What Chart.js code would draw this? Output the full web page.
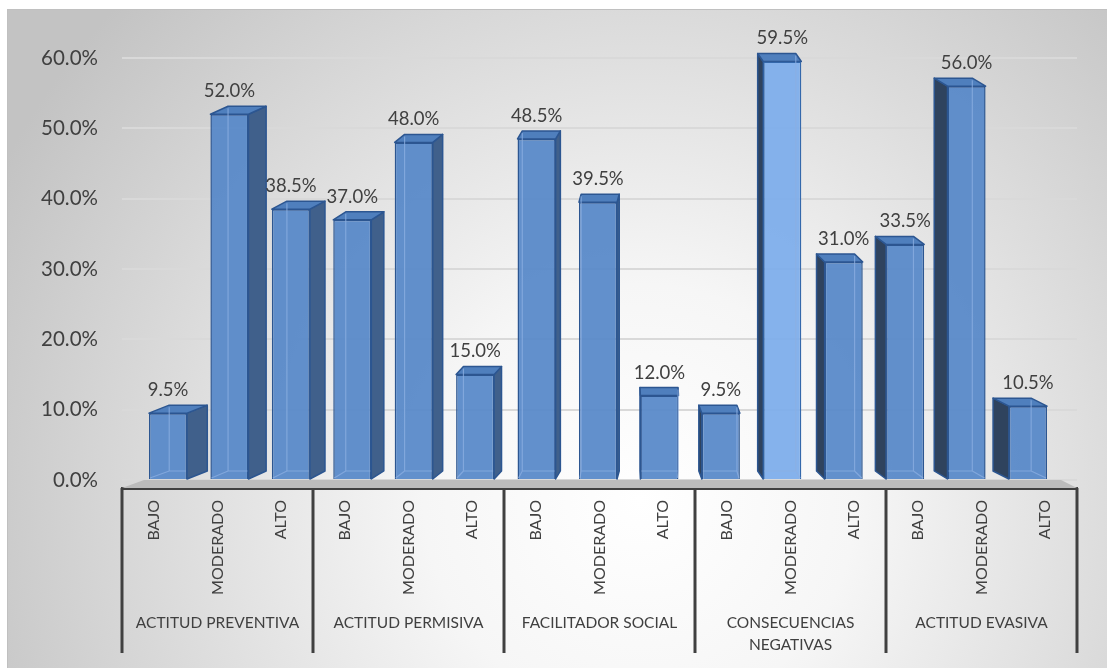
<!DOCTYPE html>
<html>
<head>
<meta charset="utf-8">
<script src="https://cdn.jsdelivr.net/npm/chart.js@4.4.1/dist/chart.umd.min.js"></script>
<style>
  html, body { margin: 0; padding: 0; background: #fff; }
  #wrap { width: 1107px; height: 668px; position: relative; }
</style>
</head>
<body>
<div id="wrap"><canvas id="myChart"></canvas></div>
<script>
const groups = ["ACTITUD PREVENTIVA", "ACTITUD PERMISIVA", "FACILITADOR SOCIAL", ["CONSECUENCIAS", "NEGATIVAS"], "ACTITUD EVASIVA"];
const levels = ["BAJO", "MODERADO", "ALTO", "BAJO", "MODERADO", "ALTO", "BAJO", "MODERADO", "ALTO",
                "BAJO", "MODERADO", "ALTO", "BAJO", "MODERADO", "ALTO"];
const values = [9.5, 52.0, 38.5, 37.0, 48.0, 15.0, 48.5, 39.5, 12.0, 9.5, 59.5, 31.0, 33.5, 56.0, 10.5];
const yTicks = [0, 10, 20, 30, 40, 50, 60];

// fake 3d: side/top faces go toward a vanishing point near the middle
const vanishX = 650;
const depthK = 0.042;
const depthY = -8;
const depthOf = (x) => (vanishX - x) * depthK;

const background = {
  id: "background",
  beforeDraw(chart) {
    const c = chart.ctx;
    c.save();
    c.fillStyle = "#fff";
    c.fillRect(0, 0, chart.width, chart.height);
    const g = c.createRadialGradient(640, 500, 0, 640, 500, 720);
    g.addColorStop(0, "#ffffff");
    g.addColorStop(0.3, "#f6f6f6");
    g.addColorStop(1, "#c3c3c3");
    c.fillStyle = g;
    c.fillRect(7, 9, chart.width - 7, chart.height - 9);
    c.strokeStyle = "#c0c0c0";
    c.lineWidth = 1;
    c.strokeRect(7.5, 9.5, chart.width - 7, chart.height - 9);
    c.restore();
  }
};

const bar3d = {
  id: "bar3d",
  beforeDatasetsDraw(chart) {
    const c = chart.ctx;
    const ca = chart.chartArea;
    const base0 = chart.scales.y.getPixelForValue(0);
    c.save();
    // floor
    c.fillStyle = "#bcbcbc";
    c.beginPath();
    c.moveTo(ca.left, ca.bottom);
    c.lineTo(ca.right, ca.bottom);
    c.lineTo(ca.right - 16, base0);
    c.lineTo(ca.left + 22, base0);
    c.closePath();
    c.fill();

    const meta = chart.getDatasetMeta(0);
    meta.data.forEach((el) => {
      const { x, y, base, width } = el.getProps(["x", "y", "base", "width"], true);
      const x1 = x - width / 2, x2 = x + width / 2;
      const d = depthOf(x);
      const ex = d > 0 ? x2 : x1;
      c.lineJoin = "round";
      c.lineWidth = 1.5;
      c.strokeStyle = "#2c5691";
      // side
      c.fillStyle = d > 0 ? "#40608b" : "#2f435e";
      c.beginPath();
      c.moveTo(ex, y);
      c.lineTo(ex + d, y + depthY);
      c.lineTo(ex + d, base + depthY);
      c.lineTo(ex, base);
      c.closePath();
      c.fill();
      c.stroke();
      // top
      c.fillStyle = "#4f7fbd";
      c.beginPath();
      c.moveTo(x1, y);
      c.lineTo(x2, y);
      c.lineTo(x2 + d, y + depthY);
      c.lineTo(x1 + d, y + depthY);
      c.closePath();
      c.fill();
      c.stroke();
    });
    c.restore();
  },
  afterDatasetsDraw(chart) {
    const c = chart.ctx;
    const meta = chart.getDatasetMeta(0);
    c.save();
    meta.data.forEach((el, i) => {
      const { x, y, base, width } = el.getProps(["x", "y", "base", "width"], true);
      const x1 = x - width / 2, x2 = x + width / 2;
      const d = depthOf(x);
      // back edges seen through the front face
      c.strokeStyle = "rgba(140,175,225,0.75)";
      c.lineWidth = 1.2;
      c.beginPath();
      if (d > 0) {
        c.moveTo(x1 + d, y + depthY + 2);
        c.lineTo(x1 + d, base + depthY);
        c.lineTo(x2 - 1, base + depthY);
        c.moveTo(x1 + 1, base - 1);
        c.lineTo(x1 + d, base + depthY);
      } else {
        c.moveTo(x2 + d, y + depthY + 2);
        c.lineTo(x2 + d, base + depthY);
        c.lineTo(x1 + 1, base + depthY);
        c.moveTo(x2 - 1, base - 1);
        c.lineTo(x2 + d, base + depthY);
      }
      c.stroke();
      // value label
      c.fillStyle = "#404040";
      c.font = "18.5px Lato";
      c.textAlign = "center";
      c.textBaseline = "middle";
      c.fillText(values[i].toFixed(1) + "%", x, y + depthY - 15);
    });
    c.restore();
  }
};

const separators = {
  id: "separators",
  afterDraw(chart) {
    const c = chart.ctx;
    const sx = chart.scales.x;
    const step = sx.width / groups.length;
    c.save();
    c.strokeStyle = "#404040";
    c.lineWidth = 3;
    for (let g = 0; g <= groups.length; g++) {
      const px = Math.round(sx.left + g * step);
      c.beginPath();
      c.moveTo(px, sx.top);
      c.lineTo(px, 653);
      c.stroke();
    }
    c.restore();
  }
};

const ctx = document.getElementById("myChart").getContext("2d");
const mychart = new Chart(ctx, {
  type: "bar",
  data: {
    datasets: [
      {
        data: values.map((v, i) => ({ x: i, y: v })),
        xAxisID: "xb",
        yAxisID: "y",
        backgroundColor: (c) => c.dataIndex === 10 ? "rgba(126,174,235,0.95)" : "rgba(86,136,200,0.93)",
        borderColor: (c) => c.dataIndex === 10 ? "#3468ab" : "#2c5691",
        borderWidth: 1.5,
        categoryPercentage: 1,
        barPercentage: 0.62,
      },
    ],
  },
  options: {
    responsive: true,
    maintainAspectRatio: false,
    animation: false,
    layout: { padding: { left: 0, right: 30, top: 58, bottom: 7 } },
    plugins: { legend: { display: false }, tooltip: { enabled: false } },
    scales: {
      xb: {
        type: "linear",
        display: false,
        offset: false,
        min: -0.749,
        max: 14.798,
        grid: { offset: false },
      },
      x: {
        type: "category",
        labels: levels,
        position: "bottom",
        weight: 0,
        offset: true,
        grid: { display: false, drawTicks: false },
        border: { display: true, color: "#404040", width: 3 },
        ticks: {
          autoSkip: false,
          minRotation: 90,
          maxRotation: 90,
          padding: 12,
          color: "#404040",
          font: { family: "Lato", size: 16 },
        },
        afterFit: (s) => { s.height = 118; },
      },
      x2: {
        type: "category",
        labels: groups,
        position: "bottom",
        weight: 1,
        offset: true,
        grid: { display: false, drawTicks: false },
        border: { display: false },
        ticks: {
          autoSkip: false,
          minRotation: 0,
          maxRotation: 0,
          padding: 6,
          color: "#404040",
          font: { family: "Lato", size: 15.5, lineHeight: 1.4 },
        },
        afterFit: (s) => { s.height = 55; },
      },
      y: {
        min: -1.14,
        max: 60,
        grid: { color: "#d9d9d9", lineWidth: 2, drawTicks: false },
        border: { display: false },
        ticks: {
          padding: 24,
          color: "#404040",
          font: { family: "Lato", size: 20.5 },
          callback: (v) => v.toFixed(1) + "%",
        },
        afterBuildTicks: (s) => { s.ticks = yTicks.map((v) => ({ value: v })); },
        afterFit: (s) => { s.width = 122; },
      },
    },
  },
  plugins: [background, bar3d, separators],
});
</script>
</body>
</html>
